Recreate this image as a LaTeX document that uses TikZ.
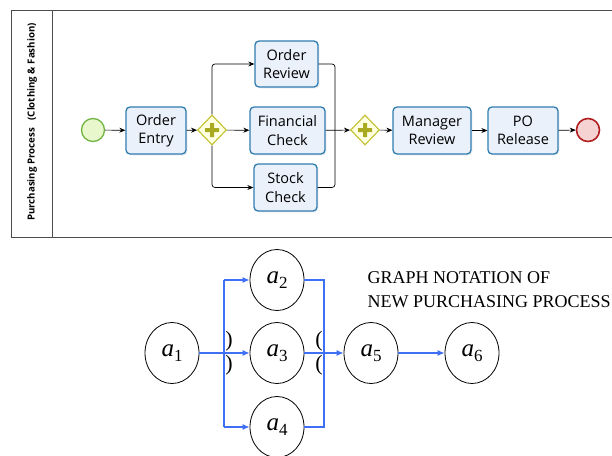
\documentclass[tikz,border=0pt]{standalone}
\usepackage{fontspec}
\setmainfont{Liberation Serif}
\newfontfamily\bpmnfont{Open Sans}
\usetikzlibrary{shapes.geometric,arrows.meta,shadows}

\definecolor{taskline}{HTML}{2F7CB1}
\definecolor{taskfill}{HTML}{EAF1FB}
\definecolor{gateline}{HTML}{C4C43A}
\definecolor{gatefill}{HTML}{FFFFE2}
\definecolor{gateplus}{HTML}{A9A922}
\definecolor{startline}{HTML}{72B443}
\definecolor{startfill}{HTML}{E8F7CC}
\definecolor{endline}{HTML}{B01E1E}
\definecolor{endfill}{HTML}{F6D3D3}
\definecolor{graphblue}{HTML}{3F6FF5}

\newcommand{\act}[1]{\textit{a}\raisebox{-5pt}{\fontsize{17}{17}\selectfont #1}}

\tikzset{
  task/.style={draw=taskline, line width=1.3pt, fill=taskfill, rounded corners=4pt,
    align=center, font=\bpmnfont\fontsize{14.5}{18.5}\selectfont, inner sep=0pt,
    drop shadow={opacity=0.12, shadow xshift=1.5pt, shadow yshift=-1.5pt}},
  gateway/.style={diamond, draw=gateline, line width=1.2pt, fill=gatefill,
    minimum width=29pt, minimum height=30pt, inner sep=0pt},
  flow/.style={-{Stealth[length=6pt,width=5pt]}, line width=0.7pt},
  seq/.style={line width=0.7pt},
  actnode/.style={ellipse, draw, line width=0.8pt, minimum width=54pt, minimum height=61pt,
    inner sep=0pt, font=\fontsize{25}{25}\selectfont},
  edge/.style={-{Latex[length=7pt,width=6pt]}, graphblue, line width=1.2pt},
  bline/.style={graphblue, line width=1.2pt},
  paren/.style={font=\fontsize{22}{22}\selectfont, inner sep=0pt}
}

\begin{document}
\begin{tikzpicture}[x=1pt, y=-1pt]
\useasboundingbox (0,0) rectangle (612,455);

% pool
\draw[black!70, line width=0.8pt] (613,10) -- (11,10) -- (11,237) -- (613,237);
\draw[black!70, line width=0.8pt] (52,10) -- (52,237);
\node[rotate=90, font=\bpmnfont\bfseries\fontsize{9.7}{9.7}\selectfont] (lane) at (32,122) {Purchasing Process\ \ \ (Clothing \& Fashion)};

% bpmn elements
\node[circle, draw=startline, line width=1.3pt, fill=startfill, minimum size=23pt, inner sep=0pt] (start) at (93,130) {};
\node[task, minimum width=60pt, minimum height=47pt] (entry) at (156,130.5) {Order\\Entry};
\node[gateway] (g1) at (212,130) {};
\node[task, minimum width=63pt, minimum height=46pt] (review) at (286.5,64) {Order\\Review};
\node[task, minimum width=75pt, minimum height=47pt] (financial) at (287.5,130.5) {Financial\\Check};
\node[task, minimum width=63pt, minimum height=47pt] (stock) at (285.5,187.5) {Stock\\Check};
\node[gateway] (g2) at (365,130) {};
\node[task, minimum width=78pt, minimum height=47pt] (manager) at (432,130.5) {Manager\\Review};
\node[task, minimum width=70pt, minimum height=47pt] (release) at (523,130.5) {PO\\Release};
\node[circle, draw=endline, line width=1.6pt, fill=endfill, minimum size=23pt, inner sep=0pt] (end) at (588,130) {};

% plus signs
\foreach \g in {g1,g2}
  \fill[gateplus] ([xshift=-7pt,yshift=-2pt]\g.center) rectangle ([xshift=7pt,yshift=2pt]\g.center)
                  ([xshift=-2pt,yshift=-7pt]\g.center) rectangle ([xshift=2pt,yshift=7pt]\g.center);

\coordinate (join) at (335,130);

\draw[flow] (start) -- (entry);
\draw[flow] (entry) -- (g1);
\draw[flow, rounded corners=3pt] (g1.north) |- (review.west);
\draw[flow] (g1) -- (financial);
\draw[flow, rounded corners=3pt] (g1.south) |- (stock.west);
\draw[seq, rounded corners=3pt] (review.east) -| (join);
\draw[seq, rounded corners=3pt] (stock.east) -| (join);
\draw[flow] (financial) -- (g2);
\draw[flow] (g2) -- (manager);
\draw[flow] (manager) -- (release);
\draw[flow] (release) -- (end);

% graph notation
\node[actnode] (a1) at (172,353) {\act{1}};
\node[actnode] (a2) at (277,280) {\act{2}};
\node[actnode] (a3) at (277,353) {\act{3}};
\node[actnode] (a4) at (277,427) {\act{4}};
\node[actnode] (a5) at (371,353) {\act{5}};
\node[actnode] (a6) at (472,353) {\act{6}};

\coordinate (split) at (224,353);
\coordinate (merge) at (324,353);

\draw[bline] (split |- a2) -- (split |- a4);
\draw[edge] (a1) -- (a3);
\draw[edge] (split |- a2) -- (a2);
\draw[edge] (split |- a4) -- (a4);
\draw[bline] (a2) -| (merge) |- (a4);
\draw[edge] (a3) -- (a5);
\draw[edge] (a5) -- (a6);

\node[paren] (p1) at (229,341) {)};
\node[paren] (p2) at (229,365) {)};
\node[paren] (p3) at (319,341) {(};
\node[paren] (p4) at (319,365) {(};

\node[anchor=west, align=left, font=\fontsize{18}{24}\selectfont] (title) at (364,290) {GRAPH NOTATION OF\\NEW PURCHASING PROCESS};

\end{tikzpicture}
\end{document}
